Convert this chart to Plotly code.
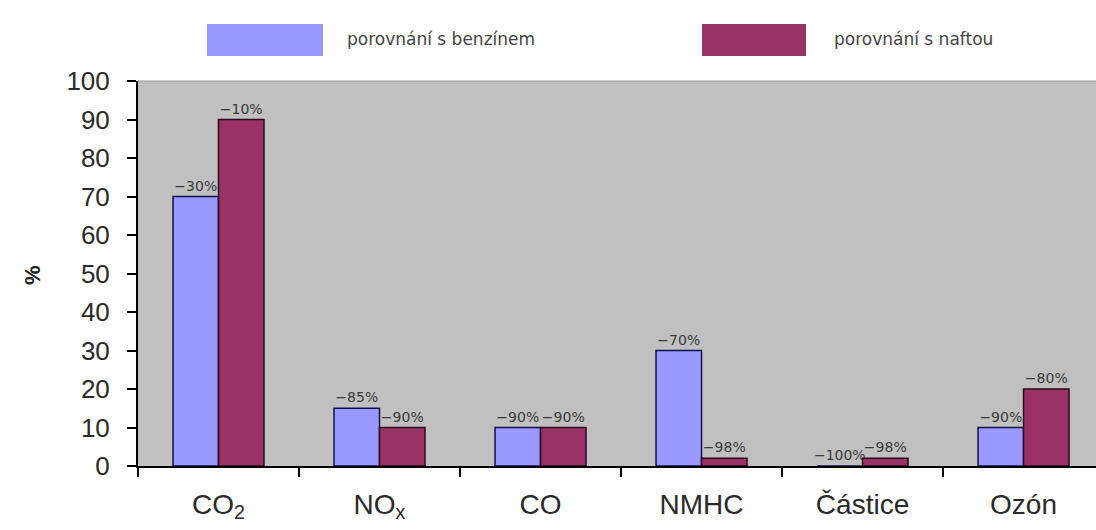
import plotly.graph_objects as go

# Emissions of natural-gas vehicles relative to petrol and diesel (100 % = reference fuel)
categories = ["CO<sub>2</sub>", "NO<sub>x</sub>", "CO", "NMHC", "Částice", "Ozón"]
series_names = ["porovnání s benzínem", "porovnání s naftou"]
vs_petrol = [70, 15, 10, 30, 0, 10]
vs_diesel = [90, 10, 10, 2, 2, 20]
petrol_labels = ["−30%", "−85%", "−90%", "−70%", "−100%", "−90%"]
diesel_labels = ["−10%", "−90%", "−90%", "−98%", "−98%", "−80%"]
y_ticks = [0, 10, 20, 30, 40, 50, 60, 70, 80, 90, 100]

colors = ["#9999FF", "#993366"]
outlines = ["#10104a", "#2a0a1a"]

W, H = 1096, 530
L, R, T, B = 138, 0, 81, 64
FONT = "Liberation Sans, Arial, sans-serif"
WIDE = "DejaVu Sans, Verdana, sans-serif"


def px_x(p):
    return (p - L) / (W - L - R)


def px_y(p):
    return (H - B - p) / (H - T - B)


fig = go.Figure()
for name, vals, labels, col, oc in [
    (series_names[0], vs_petrol, petrol_labels, colors[0], outlines[0]),
    (series_names[1], vs_diesel, diesel_labels, colors[1], outlines[1]),
]:
    fig.add_trace(go.Bar(
        x=categories, y=vals, name=name,
        marker=dict(color=col, line=dict(color=oc, width=1.5)),
        text=labels, textposition="outside", cliponaxis=False, constraintext="none",
        textfont=dict(family=WIDE, size=14, color="#3a3a3a"),
        showlegend=False,
    ))

# Legend drawn as large swatches above the plot
legend_items = [(207, 323, 345), (702, 806, 832)]
shapes = []
annotations = []
for (x0, x1, tx), name, col in zip(legend_items, series_names, colors):
    shapes.append(dict(type="rect", xref="paper", yref="paper",
                       x0=px_x(x0), x1=px_x(x1), y0=px_y(56), y1=px_y(24),
                       fillcolor=col, line=dict(width=0)))
    annotations.append(dict(xref="paper", yref="paper", x=px_x(tx), y=px_y(39),
                            xanchor="left", yanchor="middle", showarrow=False,
                            text=name, font=dict(family=WIDE, size=17, color="#444444")))

# top border of the plot area
shapes.append(dict(type="line", xref="paper", yref="paper", x0=0, x1=1, y0=1, y1=1,
                   line=dict(color="#9a9a9a", width=1)))

annotations.append(dict(xref="paper", yref="paper", x=px_x(32), y=px_y(275),
                        xanchor="center", yanchor="middle", showarrow=False,
                        text="<b>%</b>", textangle=-90,
                        font=dict(family=FONT, size=22, color="#222222")))

fig.update_layout(
    width=W, height=H,
    margin=dict(l=L, r=R, t=T, b=B, pad=0),
    paper_bgcolor="white", plot_bgcolor="#C0C0C0",
    barmode="group", bargap=0.435, bargroupgap=0,
    shapes=shapes, annotations=annotations,
    font=dict(family=FONT, color="#222222"),
)
fig.update_xaxes(
    range=[-0.5, 5.45], showgrid=False, showline=True, linecolor="black", linewidth=2,
    ticks="outside", tickson="boundaries", ticklen=9, tickwidth=2, tickcolor="black",
    ticklabelstandoff=12, tickfont=dict(family=FONT, size=28, color="#2a2a2a"),
)
fig.update_yaxes(
    range=[0, 100], tickvals=y_ticks, showgrid=False, zeroline=False,
    showline=True, linecolor="black", linewidth=2,
    ticks="outside", ticklen=9, tickwidth=2, tickcolor="black",
    ticklabelstandoff=12, tickfont=dict(family=FONT, size=26, color="#2a2a2a"),
)

fig.write_html("out.html")
